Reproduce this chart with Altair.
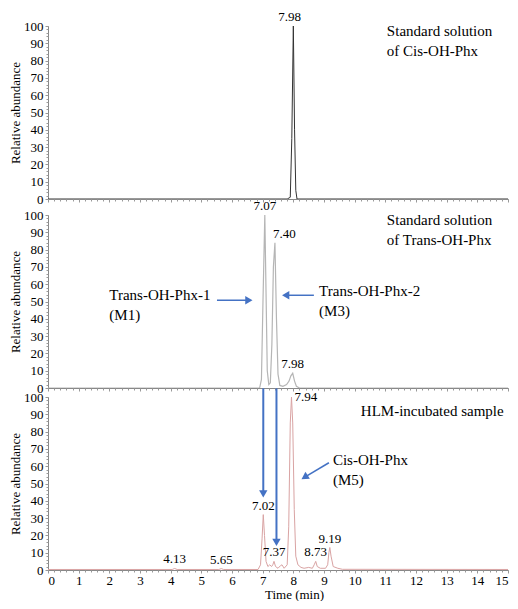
import altair as alt
import pandas as pd

FONT = "Liberation Serif"

# ---------------- data (time in min, relative abundance) ----------------
cis_time = [0.0, 7.80, 7.90, 7.95, 8.00, 8.04, 8.08, 8.12, 15.0]
cis_abund = [0.0, 0.0, 1.0, 35.0, 100.0, 40.0, 5.0, 0.0, 0.0]

trans_time = [0.0, 6.90, 6.96, 7.01, 7.07, 7.11, 7.15, 7.20, 7.25, 7.30, 7.35, 7.40,
              7.45, 7.50, 7.56, 7.66, 7.78, 7.86, 7.92, 7.98, 8.04, 8.10, 8.20, 15.0]
trans_abund = [0.0, 0.0, 5.0, 50.0, 100.0, 55.0, 10.0, 2.0, 3.0, 25.0, 70.0, 84.0,
               40.0, 8.0, 1.5, 1.0, 2.0, 4.0, 7.0, 8.5, 4.0, 1.0, 0.0, 0.0]

hlm_time = [0.0, 4.05, 4.13, 4.21, 5.57, 5.65, 5.73, 6.85, 6.93, 6.98, 7.02, 7.06,
            7.11, 7.17, 7.23, 7.29, 7.33, 7.37, 7.42, 7.50, 7.58, 7.63, 7.70, 7.80,
            7.85, 7.90, 7.94, 7.98, 8.03, 8.08, 8.15, 8.25, 8.35, 8.50, 8.62, 8.68,
            8.73, 8.78, 8.88, 9.05, 9.12, 9.16, 9.19, 9.23, 9.30, 9.45, 9.60, 15.0]
hlm_abund = [0.3, 0.3, 0.9, 0.3, 0.3, 0.8, 0.3, 0.3, 3.0, 18.0, 32.0, 20.0,
             5.0, 2.0, 3.0, 2.0, 3.0, 5.0, 2.0, 1.0, 2.5, 3.0, 1.0, 3.0,
             25.0, 85.0, 100.0, 85.0, 35.0, 8.0, 3.0, 1.5, 1.0, 1.5, 1.0, 3.0,
             5.0, 2.0, 1.0, 1.0, 3.0, 10.0, 13.0, 8.0, 2.0, 1.0, 0.4, 0.3]

# peak labels
cis_pk_t, cis_pk_y, cis_pk_txt = [7.98], [100.0], ["7.98"]
trans_pk_t, trans_pk_y, trans_pk_txt = [7.07, 7.98], [100.0, 8.5], ["7.07", "7.98"]
trans_side_t, trans_side_y, trans_side_txt = [7.40], [84.0], ["7.40"]
hlm_pk_t = [4.13, 5.65, 7.02, 7.37, 8.73, 9.19]
hlm_pk_y = [0.9, 0.8, 32.0, 5.0, 5.0, 13.0]
hlm_pk_txt = ["4.13", "5.65", "7.02", "7.37", "8.73", "9.19"]
hlm_side_t, hlm_side_y, hlm_side_txt = [7.94], [100.0], ["7.94"]

# annotation texts (x in min, y in abundance units of that panel)
top_note_x, top_note_y, top_note_txt = [11.05], [101.0], ["Standard solution\nof Cis-OH-Phx"]
mid_note_x = [11.05, 2.0, 8.84]
mid_note_y = [101.0, 58.0, 60.0]
mid_note_txt = ["Standard solution\nof Trans-OH-Phx", "Trans-OH-Phx-1\n(M1)", "Trans-OH-Phx-2\n(M3)"]
bot_note_x = [10.2, 9.29]
bot_note_y = [96.0, 67.5]
bot_note_txt = ["HLM-incubated sample", "Cis-OH-Phx\n(M5)"]

# arrows (start -> tip)
mid_arrow_right = dict(x=[5.51], y=[50.7], x2=[6.55], y2=[50.7])
mid_arrow_left = dict(x=[8.67], y=[53.6], x2=[7.75], y2=[53.6])
bot_arrow_down = dict(x=[7.02, 7.45], y=[105.0, 105.0], x2=[7.02, 7.45], y2=[44.0, 16.0])
bot_arrow_diag = dict(x=[9.16], y=[62.0], x2=[8.40], y2=[54.0])

x_major = list(range(0, 16))
x_minor = [round(i * 0.2, 1) for i in range(76)]
y_major = list(range(0, 101, 10))
y_minor = list(range(0, 101, 2))

BLUE = "#4472c4"
XS = alt.Scale(domain=[0, 15], nice=False, zero=False)
YS = alt.Scale(domain=[0, 100], nice=False)


def X(field="t"):
    return alt.X(f"{field}:Q", scale=XS, axis=None)


def Y(field="a"):
    return alt.Y(f"{field}:Q", scale=YS, axis=None)


def axis_layers(df, show_x):
    if show_x:
        xa = alt.Axis(values=x_major, title="Time (min)", format="d", tickSize=3,
                      labelPadding=1, titlePadding=1, titleX=246, titleAlign="center",
                      labelOverlap=False, labelFlush=True, grid=False, orient="bottom")
    else:
        xa = alt.Axis(values=x_major, title=None, labels=False, tickSize=3, grid=False, orient="bottom")
    ya = alt.Axis(values=y_major, title="Relative abundance", format="d", tickSize=3,
                  labelPadding=2, titlePadding=1, labelOverlap=False, labelFlush=False,
                  grid=False, orient="left")
    major = alt.Chart(df).mark_line(opacity=0).encode(
        x=alt.X("t:Q", scale=XS, axis=xa), y=alt.Y("a:Q", scale=YS, axis=ya))
    minor = alt.Chart(df).mark_line(opacity=0).encode(
        x=alt.X("t:Q", scale=XS, axis=alt.Axis(values=x_minor, labels=False, domain=False,
                                               tickSize=2, title=None, grid=False, orient="bottom")),
        y=alt.Y("a:Q", scale=YS, axis=alt.Axis(values=y_minor, labels=False, domain=False,
                                               tickSize=2, title=None, grid=False, orient="left")))
    return [major, minor]


def text_layer(ts, ys, txt, **mk):
    df = pd.DataFrame({"t": ts, "a": ys, "label": txt})
    return alt.Chart(df).mark_text(font=FONT, fontSize=13, color="black", **mk).encode(
        x=X(), y=Y(), text="label:N")


def note_layer(ts, ys, txt):
    df = pd.DataFrame({"t": ts, "a": ys, "label": txt})
    return alt.Chart(df).mark_text(font=FONT, fontSize=15, color="black", align="left",
                                   baseline="top", lineBreak="\n", lineHeight=20).encode(
        x=X(), y=Y(), text="label:N")


def arrow_layers(d, shape, angle=0, width=1.5):
    df = pd.DataFrame({"t": d["x"], "a": d["y"], "t2": d["x2"], "a2": d["y2"]})
    shaft = alt.Chart(df).mark_rule(color=BLUE, strokeWidth=width).encode(
        x=X(), y=Y(), x2="t2:Q", y2="a2:Q")
    head = alt.Chart(df).mark_point(shape=shape, angle=angle, filled=True, color=BLUE,
                                    opacity=1, size=70).encode(x=X("t2"), y=Y("a2"))
    return [shaft, head]


def trace(ts, ys, color, show_x, width=1.0):
    df = pd.DataFrame({"t": ts, "a": ys})
    line = alt.Chart(df).mark_line(color=color, strokeWidth=width, clip=True).encode(x=X(), y=Y())
    return axis_layers(df, show_x) + [line]


W, H = 460, 173

top = alt.layer(
    *trace(cis_time, cis_abund, "#333333", False),
    text_layer(cis_pk_t, cis_pk_y, cis_pk_txt, baseline="bottom", dy=-2, dx=-3),
    note_layer(top_note_x, top_note_y, top_note_txt),
).resolve_axis(x="independent", y="independent").properties(width=W, height=H)

mid = alt.layer(
    *trace(trans_time, trans_abund, "#b5b5b5", False, 1.2),
    text_layer(trans_pk_t, trans_pk_y, trans_pk_txt, baseline="bottom", dy=-2),
    text_layer(trans_side_t, trans_side_y, trans_side_txt, baseline="bottom", align="left", dy=-2, dx=-2),
    note_layer(mid_note_x, mid_note_y, mid_note_txt),
    *arrow_layers(mid_arrow_right, "triangle-right"),
    *arrow_layers(mid_arrow_left, "triangle-left"),
).resolve_axis(x="independent", y="independent").properties(width=W, height=H)

bot = alt.layer(
    *trace(hlm_time, hlm_abund, "#d9a3a3", True),
    text_layer(hlm_pk_t, hlm_pk_y, hlm_pk_txt, baseline="bottom", dy=-2),
    text_layer(hlm_side_t, hlm_side_y, hlm_side_txt, baseline="middle", align="left", dx=3),
    note_layer(bot_note_x, bot_note_y, bot_note_txt),
    *arrow_layers(bot_arrow_down, "triangle-down", width=2),
    *arrow_layers(bot_arrow_diag, "triangle", angle=238),
).resolve_axis(x="independent", y="independent").properties(width=W, height=H)

chart = alt.vconcat(
    top,
    alt.vconcat(mid, bot, spacing=9, bounds="flush"),
    spacing=16,
    bounds="flush",
).properties(
    padding={"top": 3, "left": 1, "right": 0, "bottom": 0}
).configure_axis(
    labelFont=FONT, titleFont=FONT, labelFontSize=13, titleFontSize=13,
    titleFontWeight="normal", labelColor="black", titleColor="black",
    domainColor="#888888", tickColor="#999999", domainWidth=1, tickWidth=1,
).configure_view(stroke=None)

chart.save("out.html", embed_options={"renderer": "svg", "actions": False})
